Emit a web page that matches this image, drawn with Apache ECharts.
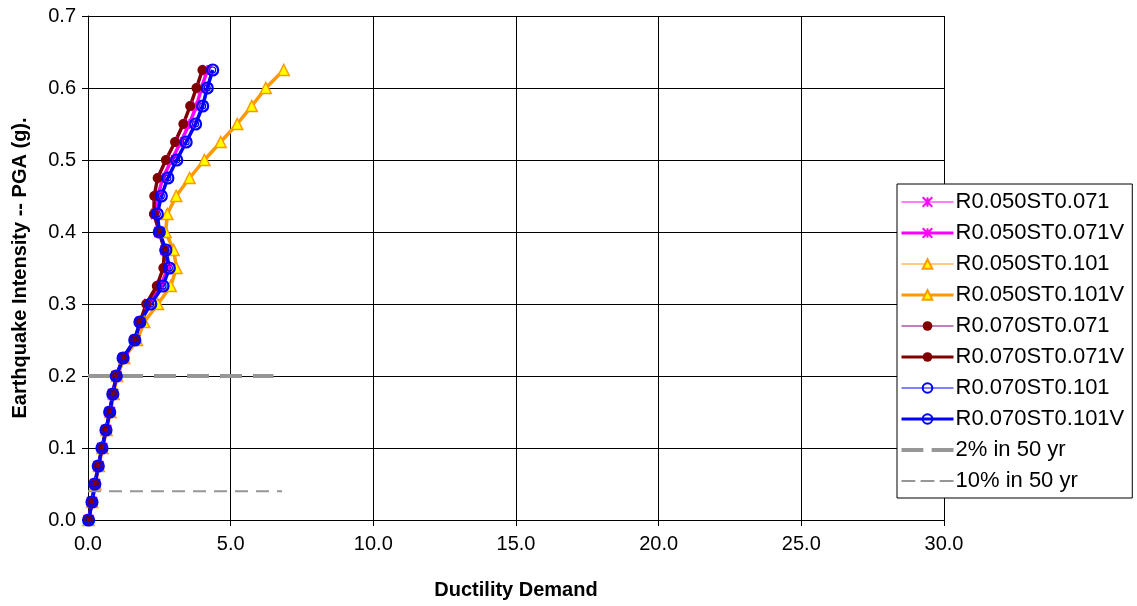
<!DOCTYPE html>
<html>
<head>
<meta charset="utf-8">
<script src="https://cdn.jsdelivr.net/npm/echarts@6/dist/echarts.min.js"></script>
<style>
html,body{margin:0;padding:0;background:#fff;}
#chart{width:1137px;height:606px;}
</style>
</head>
<body>
<div id="chart"></div>
<script>
// PGA levels (g) - y values of every point
const pga = [0, 0.025, 0.05, 0.075, 0.1, 0.125, 0.15, 0.175, 0.2, 0.225, 0.25, 0.275, 0.3,
  0.325, 0.35, 0.375, 0.4, 0.425, 0.45, 0.475, 0.5, 0.525, 0.55, 0.575, 0.6, 0.625];

// Ductility demand for each series
const r050st071  = [0.02,0.14,0.25,0.37,0.50,0.64,0.77,0.88,1.00,1.25,1.66,1.85,2.15,2.55,2.80,2.72,2.50,2.38,2.45,2.62,2.93,3.25,3.55,3.80,3.98,4.18];
const r050st071V = [0.02,0.14,0.25,0.37,0.50,0.64,0.77,0.88,1.00,1.25,1.66,1.85,2.15,2.55,2.80,2.72,2.50,2.38,2.45,2.62,2.93,3.25,3.55,3.80,3.98,4.18];
const r050st101  = [0.02,0.15,0.26,0.38,0.51,0.65,0.79,0.90,1.02,1.27,1.72,1.97,2.45,2.90,3.10,3.00,2.72,2.78,3.09,3.56,4.08,4.65,5.23,5.74,6.23,6.86];
const r050st101V = [0.02,0.15,0.26,0.38,0.51,0.65,0.79,0.90,1.02,1.27,1.72,1.97,2.45,2.90,3.10,3.00,2.72,2.78,3.09,3.56,4.08,4.65,5.23,5.74,6.23,6.86];
const r070st071  = [0.02,0.14,0.24,0.36,0.49,0.63,0.76,0.87,0.99,1.23,1.64,1.82,2.04,2.41,2.64,2.68,2.50,2.31,2.32,2.44,2.73,3.05,3.34,3.58,3.80,4.01];
const r070st071V = [0.02,0.14,0.24,0.36,0.49,0.63,0.76,0.87,0.99,1.23,1.64,1.82,2.04,2.41,2.64,2.68,2.50,2.31,2.32,2.44,2.73,3.05,3.34,3.58,3.80,4.01];
const r070st101  = [0.02,0.14,0.24,0.36,0.49,0.63,0.76,0.87,0.99,1.23,1.64,1.82,2.20,2.63,2.85,2.73,2.50,2.43,2.57,2.80,3.11,3.44,3.77,4.02,4.18,4.37];
const r070st101V = [0.02,0.14,0.24,0.36,0.49,0.63,0.76,0.87,0.99,1.23,1.64,1.82,2.20,2.63,2.85,2.73,2.50,2.43,2.57,2.80,3.11,3.44,3.77,4.02,4.18,4.37];

// Hazard reference lines: [x, y] end points
const haz2in50  = [[0, 0.2], [6.5, 0.2]];
const haz10in50 = [[0, 0.04], [6.8, 0.04]];

const xTicks = [0, 5, 10, 15, 20, 25, 30];
const yTicks = [0, 0.1, 0.2, 0.3, 0.4, 0.5, 0.6, 0.7];

function pairs(xs){ return xs.map((x,i)=>[x, pga[i]]); }

const star = 'path://M0,0L10,10M10,0L0,10M5,0L5,10';

function mk(name, xs, color, width, symbol, size, fill, bw){
  return {
    name, type:'line', data: pairs(xs), color,
    symbol, symbolSize:size, showSymbol:true,
    lineStyle:{color, width},
    itemStyle:{color: fill, borderColor: color, borderWidth: bw},
    emphasis:{disabled:true}, animation:false
  };
}

const series = [
  mk('R0.050ST0.071',  r050st071,  '#FF00FF', 1, star, 7, 'rgba(0,0,0,0)', 1.2),
  mk('R0.050ST0.071V', r050st071V, '#FF00FF', 3.5, star, 10, 'rgba(0,0,0,0)', 1.8),
  mk('R0.050ST0.101',  r050st101,  '#FF9900', 1.2, 'triangle', 6, '#FFFF00', 1),
  mk('R0.050ST0.101V', r050st101V, '#FF9900', 3.5, 'triangle', 11, '#FFFF00', 1.5),
  mk('R0.070ST0.071',  r070st071,  '#800080', 1.2, 'circle', 6, '#800000', 0),
  mk('R0.070ST0.071V', r070st071V, '#800000', 3.5, 'circle', 10, '#800000', 0),
  mk('R0.070ST0.101',  r070st101,  '#0000FF', 1.2, 'circle', 6, 'rgba(0,0,0,0)', 1.2),
  mk('R0.070ST0.101V', r070st101V, '#0000FF', 3.5, 'circle', 11, 'rgba(0,0,0,0)', 2.2),
  {name:'2% in 50 yr', type:'line', data: haz2in50, color:'#969696', symbol:'none',
    lineStyle:{color:'#969696', width:4, type:[22,11]}, animation:false, emphasis:{disabled:true}},
  {name:'10% in 50 yr', type:'line', data: haz10in50, color:'#969696', symbol:'none',
    lineStyle:{color:'#969696', width:2, type:[13,8]}, animation:false, emphasis:{disabled:true}}
];

const legendWidths = [1.2, 3, 1.2, 3, 1.2, 3, 1.2, 3];
const legendData = series.map((s, i) => {
  if (s.name === '2% in 50 yr') return {name:s.name, icon:'path://M0,0h21v4h-21zM29,0h21v4h-21z'};
  if (s.name === '10% in 50 yr') return {name:s.name, icon:'path://M0,0h13v2h-13zM18,0h13v2h-13zM36,0h13v2h-13z'};
  return {name:s.name, lineStyle:{width: legendWidths[i]}};
});

const chart = echarts.init(document.getElementById('chart'));
chart.setOption({
  backgroundColor:'#fff',
  textStyle:{fontFamily:'"Liberation Sans", Arial, sans-serif'},
  grid:{left:88, right:193, top:16, bottom:86, containLabel:false},
  xAxis:{
    type:'value', min:xTicks[0], max:xTicks[xTicks.length-1], interval:5,
    name:'Ductility Demand', nameLocation:'middle', nameGap:60,
    nameTextStyle:{fontSize:20, fontWeight:'bold', color:'#000'},
    axisLine:{show:true, onZero:false, lineStyle:{color:'#000', width:1}},
    axisTick:{show:true, length:6, lineStyle:{color:'#000'}},
    axisLabel:{fontSize:20, color:'#000', margin:14, formatter:v=>v.toFixed(1)},
    splitLine:{show:true, lineStyle:{color:'#000', width:1}}
  },
  yAxis:{
    type:'value', min:yTicks[0], max:yTicks[yTicks.length-1], interval:0.1,
    name:'Earthquake Intensity -- PGA (g).', nameLocation:'middle', nameGap:58,
    nameTextStyle:{fontSize:20, fontWeight:'bold', color:'#000'},
    axisLine:{show:true, onZero:false, lineStyle:{color:'#000', width:1}},
    axisTick:{show:true, length:6, lineStyle:{color:'#000'}},
    axisLabel:{fontSize:20, color:'#000', margin:12, formatter:v=>v.toFixed(1)},
    splitLine:{show:true, lineStyle:{color:'#000', width:1}}
  },
  legend:{
    orient:'vertical', left:897, top:184,
    backgroundColor:'#fff', borderColor:'#000', borderWidth:1,
    padding:[7,8,6,3], itemGap:9, itemWidth:52, itemHeight:12,
    textStyle:{fontSize:22, color:'#000', padding:[0,0,0,-3]},
    data: legendData
  },
  series
});
</script>
</body>
</html>
